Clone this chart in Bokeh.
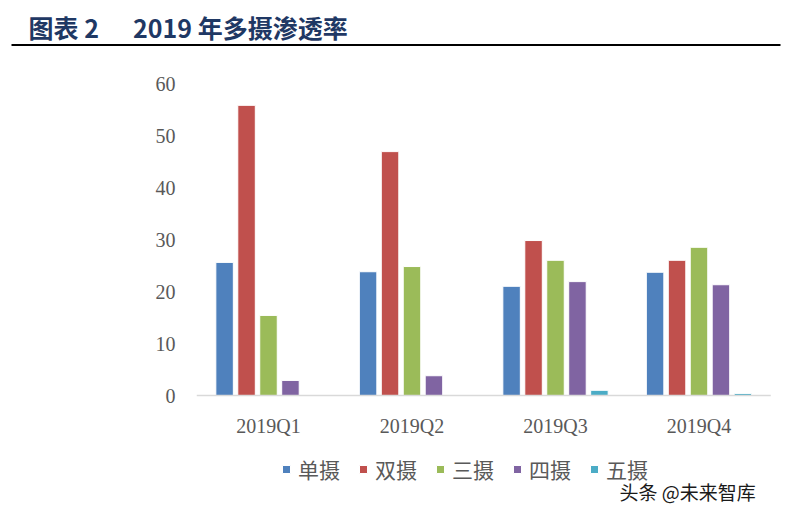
import numpy as np
from bokeh.plotting import figure
from bokeh.models import Range1d, Legend, LegendItem, Label, BoxAnnotation, ColumnDataSource, FixedTicker
from bokeh.transform import dodge
from bokeh.embed import file_html
from bokeh.resources import INLINE

quarters = ["2019Q1", "2019Q2", "2019Q3", "2019Q4"]
series = ["单摄", "双摄", "三摄", "四摄", "五摄"]
single = [25.6, 23.8, 21.0, 23.7]
dual = [55.8, 46.9, 29.8, 26.0]
triple = [15.4, 24.8, 26.0, 28.5]
quad = [2.9, 3.8, 21.9, 21.3]
penta = [0.0, 0.0, 1.0, 0.4]
y_ticks = [0, 10, 20, 30, 40, 50, 60]
title_text = "图表 2" + "\u00a0" * 6 + "2019 年多摄渗透率"
watermark = "头条 @未来智库"
colors = ["#4F81BD", "#C0504D", "#9BBB59", "#8064A2", "#4BACC6"]

CJK = "Noto Sans CJK SC"
SERIF = "Liberation Serif"

W, H = 782, 510
idx = list(range(len(quarters)))
source = ColumnDataSource(dict(i=idx, s0=single, s1=dual, s2=triple, s3=quad, s4=penta))

# frame covers the whole canvas; scale: category pitch 143.5 px (first at x=268), 5.2 px per unit (0 at y=395)
px_cat, x_first = 143.5, 268.0
px_unit, y_zero = 5.2, 395.0
p = figure(x_range=Range1d(-x_first / px_cat, (W - x_first) / px_cat),
           y_range=Range1d(-(H - y_zero) / px_unit, y_zero / px_unit),
           width=W, height=H, output_backend="svg", toolbar_location=None,
           min_border_left=0, min_border_right=0, min_border_top=0, min_border_bottom=0)

pitch = 0.153
bw = 0.122
items = []
for i, name in enumerate(series):
    r = p.vbar(x=dodge("i", (i - 2) * pitch, range=p.x_range), top="s%d" % i, width=bw,
               source=source, fill_color=colors[i], line_color="white", line_width=1)
    items.append(LegendItem(label=name, renderers=[r]))

# category baseline (from first category's left edge to last category's right edge)
p.segment(x0=[-0.5], y0=[0], x1=[len(quarters) - 0.5], y1=[0], line_color="#D9D9D9", line_width=1.5)

p.xgrid.visible = False
p.ygrid.visible = False
p.outline_line_color = None

p.yaxis.ticker = FixedTicker(ticks=y_ticks)
p.yaxis.axis_line_color = None
p.yaxis.major_tick_line_color = None
p.yaxis.minor_tick_line_color = None
p.yaxis.major_tick_out = 0
p.yaxis.minor_tick_out = 0
p.yaxis.major_label_text_font = SERIF
p.yaxis.major_label_text_font_size = "20px"
p.yaxis.major_label_text_color = "#595959"
p.yaxis.major_label_standoff = -175

p.xaxis.ticker = FixedTicker(ticks=idx)
p.xaxis.major_label_overrides = {i: q for i, q in zip(idx, quarters)}
p.xaxis.axis_line_color = None
p.xaxis.major_tick_line_color = None
p.xaxis.minor_tick_line_color = None
p.xaxis.major_tick_out = 0
p.xaxis.minor_tick_out = 0
p.xaxis.major_label_text_font = SERIF
p.xaxis.major_label_text_font_size = "20px"
p.xaxis.major_label_text_color = "#595959"
p.xaxis.major_label_standoff = -96

p.add_layout(Label(x=28, y=H - 26, x_units="screen", y_units="screen", text=title_text,
                   text_font=CJK, text_font_style="bold", text_font_size="25px",
                   text_color="#1F3864", text_baseline="middle"))
p.add_layout(BoxAnnotation(left=11, right=780, bottom=H - 45.5, top=H - 43.5,
                           left_units="screen", right_units="screen",
                           top_units="screen", bottom_units="screen",
                           fill_color="black", fill_alpha=1, line_color=None))

legend = Legend(items=items, orientation="horizontal", location=(281, 26),
                glyph_width=10, glyph_height=10, label_standoff=7, spacing=18,
                label_text_font=CJK, label_text_font_size="21px", label_text_color="#595959",
                background_fill_alpha=0, border_line_color=None, padding=0, margin=0)
p.add_layout(legend, "center")

p.add_layout(Label(x=619, y=H - 491, x_units="screen", y_units="screen", text=watermark,
                   text_font=CJK, text_font_size="19px", text_color="#1A1A1A",
                   text_baseline="middle"))

open("out.html", "w").write(file_html(p, INLINE))
